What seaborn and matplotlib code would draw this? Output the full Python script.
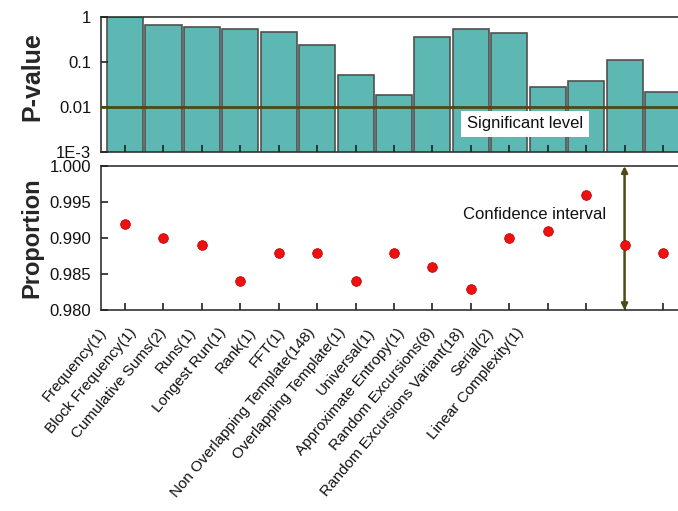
import matplotlib
matplotlib.use("Agg")
import matplotlib.pyplot as plt
import numpy as np
import pandas as pd
import seaborn as sns
from matplotlib.ticker import FixedLocator, NullLocator

sns.set_style("ticks")
plt.rcParams["font.family"] = ["Liberation Sans", "DejaVu Sans"]

tests = [
    "Frequency(1)", "Block Frequency(1)", "Cumulative Sums(2)", "Runs(1)",
    "Longest Run(1)", "Rank(1)", "FFT(1)", "Non Overlapping Template(148)",
    "Overlapping Template(1)", "Universal(1)", "Approximate Entropy(1)",
    "Random Excursions(8)", "Random Excursions Variant(18)", "Serial(2)",
    "Linear Complexity(1)",
]
p_values = [0.98, 0.66, 0.60, 0.54, 0.45, 0.24, 0.050, 0.0188,
            0.36, 0.53, 0.44, 0.028, 0.038, 0.11, 0.022]
proportions = [0.992, 0.990, 0.989, 0.984, 0.988, 0.988, 0.984, 0.988,
               0.986, 0.983, 0.990, 0.991, 0.996, 0.989, 0.988]
significance = 0.01
conf_low, conf_high = 0.980, 1.000
p_ticks = [1e-3, 1e-2, 1e-1, 1]
p_tick_labels = ["1E-3", "0.01", "0.1", "1"]
prop_ticks = [0.980, 0.985, 0.990, 0.995, 1.000]

df = pd.DataFrame({"test": tests, "p": p_values, "prop": proportions})

W, H = 678, 511
fig = plt.figure(figsize=(W / 100, H / 100), dpi=100)
fig.patch.set_facecolor("white")

x_lo, x_hi = -0.625, 14.62
ax_w = 0.864
ax1 = fig.add_axes([0.149, 0.7025, ax_w, 0.2645])
ax2 = fig.add_axes([0.149, 0.393, ax_w, 0.282])

teal = "#5db7b3"
olive = "#4f4913"

# P-value bars on a log axis
sns.barplot(data=df, x="test", y="p", ax=ax1, color=teal, width=0.94,
            edgecolor="#505050", linewidth=1.2, saturation=1)
ax1.set_yscale("log")
ax1.set_ylim(1e-3, 1)
ax1.yaxis.set_major_locator(FixedLocator(p_ticks))
ax1.yaxis.set_minor_locator(NullLocator())
ax1.set_yticklabels(p_tick_labels)
ax1.axhline(significance, color=olive, lw=2.0, zorder=5)
ax1.text(10.41, 0.0042, "Significant level", ha="center", va="center",
         fontsize=12, color="#111111", zorder=6,
         bbox=dict(boxstyle="square,pad=0.35", fc="white", ec="none"))
ax1.set_xlim(x_lo, x_hi)
ax1.set_xticklabels([])
ax1.set_xlabel("")
ax1.set_ylabel("")

# Proportion points
sns.stripplot(data=df, x="test", y="prop", ax=ax2, jitter=False,
              color="#f01010", size=7, edgecolor="#b00000", linewidth=0.5,
              zorder=4)
ax2.set_ylim(conf_low, conf_high)
ax2.set_yticks(prop_ticks)
ax2.set_yticklabels([f"{v:.3f}" for v in prop_ticks])
ax2.set_xlim(x_lo, x_hi)
ax2.annotate("", xy=(13, conf_high), xytext=(13, conf_low),
             arrowprops=dict(arrowstyle="<|-|>", color=olive, lw=1.8,
                             mutation_scale=9, shrinkA=0, shrinkB=0),
             zorder=3, annotation_clip=False)
ax2.text(10.66, 0.9933, "Confidence interval", ha="center", va="center",
         fontsize=12, color="#111111")
ax2.set_xlabel("")
ax2.set_ylabel("")
ax2.set_xticklabels([])

for ax in (ax1, ax2):
    ax.set_axisbelow(False)
    for s in ax.spines.values():
        s.set_visible(True)
        s.set_color("#333333")
        s.set_linewidth(1.2)
    ax.tick_params(axis="both", direction="in", length=5, width=1.2,
                   color="#222222", labelsize=12, labelcolor="#111111")
    ax.tick_params(axis="y", pad=7)
    ax.set_facecolor("white")

# Category names on a separate, more compact label strip below the panels
lab_left, lab_step, lab_y = 104, 29.8, 330
ax_lab = fig.add_axes([lab_left / W, 1 - lab_y / H,
                       14 * lab_step / W, 0.0001])
ax_lab.set_xlim(0, len(tests) - 1)
ax_lab.set_xticks(range(len(tests)))
ax_lab.set_xticklabels(tests, rotation=50, ha="right", va="center",
                       rotation_mode="anchor", fontsize=11, color="#111111")
ax_lab.tick_params(axis="x", length=0, pad=0)
ax_lab.set_yticks([])
ax_lab.patch.set_alpha(0)
for s in ax_lab.spines.values():
    s.set_visible(False)

fig.text(32 / W, 1 - 77 / H, "P-value", rotation=90, ha="center",
         va="center", fontsize=18, fontweight="bold")
fig.text(32 / W, 1 - 238 / H, "Proportion", rotation=90, ha="center",
         va="center", fontsize=17, fontweight="bold")

fig.savefig("out.png", dpi=100)
